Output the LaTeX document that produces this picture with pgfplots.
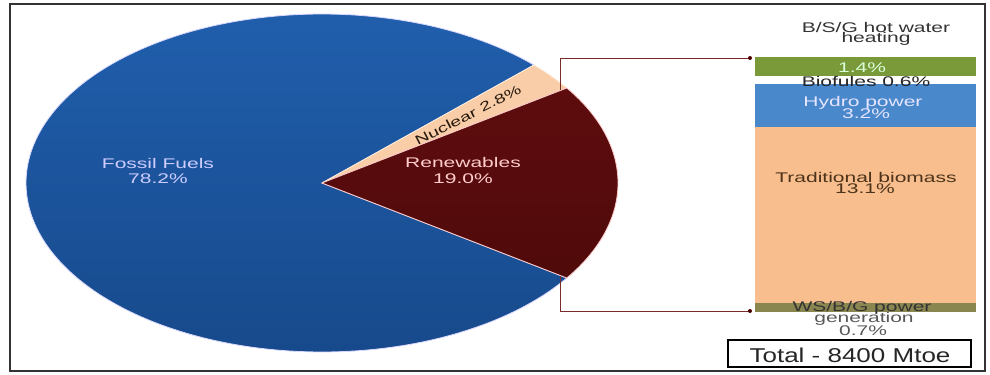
\documentclass[border=0pt]{standalone}
\usepackage{fontspec}
\setmainfont{Liberation Sans}[FakeStretch=1.5]
\newfontfamily\totalfont{Liberation Sans}[FakeStretch=1.3]
\usepackage{pgfplots}
\pgfplotsset{compat=1.18}
\definecolor{fossilTop}{HTML}{205EAC}
\definecolor{fossilBot}{HTML}{174A8C}
\definecolor{renewTop}{HTML}{5E0C0E}
\definecolor{renewBot}{HTML}{500A0A}
\definecolor{nuclearC}{HTML}{F9CDA8}
\definecolor{hotgreen}{HTML}{7A9A3A}
\definecolor{hydroC}{HTML}{4A88CC}
\definecolor{biomassC}{HTML}{F8BE8E}
\definecolor{wsolive}{HTML}{8A8650}
\definecolor{conn}{HTML}{7B2A2A}
\newcommand\fs[1]{\fontsize{#1bp}{#1bp}\selectfont}
% pie shares (percent)
\def\fossil{78.2}
\def\nuclear{2.8}
\def\renew{19.0}
\begin{document}
\begin{tikzpicture}[every node/.style={inner sep=0pt}]
\pgfmathsetmacro{\aR}{\renew*1.8}
\pgfmathsetmacro{\aN}{\aR+\nuclear*3.6}
\pgfmathsetmacro{\aF}{\aN+\fossil*3.6}
% stacked bar of renewables
\begin{axis}[at={(755bp,62bp)}, anchor=south west, scale only axis,
  width=221bp, height=255bp, hide axis, xmin=-0.5, xmax=0.5,
  ymin=0, ymax=19, ybar stacked, bar width=221bp, clip=false]
\addplot[fill=wsolive, draw=none] coordinates {(0,0.7)};
\addplot[fill=biomassC, draw=none] coordinates {(0,13.1)};
\addplot[fill=hydroC, draw=none] coordinates {(0,3.2)};
\addplot[fill=white, draw=none] coordinates {(0,0.6)};
\addplot[fill=hotgreen, draw=none] coordinates {(0,1.4)};
\end{axis}
% main canvas in pixel coordinates
\begin{axis}[at={(0,0)}, anchor=south west, scale only axis,
  width=990bp, height=374bp, hide axis, xmin=0, xmax=990,
  ymin=0, ymax=374, y dir=reverse, clip=false]
\path (axis cs:0,0) rectangle (axis cs:990,374);
\addplot[draw=white!85!blue, line width=0.8pt, top color=fossilTop, bottom color=fossilBot,
  domain=\aN:\aF, samples=150, variable=\t]
  ({322+296*cos(\t)},{183-169*sin(\t)}) -- (axis cs:322,183) -- cycle;
\addplot[draw=white!85!orange, line width=0.8pt, fill=nuclearC,
  domain=\aR:\aN, samples=20, variable=\t]
  ({322+296*cos(\t)},{183-169*sin(\t)}) -- (axis cs:322,183) -- cycle;
\addplot[draw=white!80!red, line width=0.8pt, top color=renewTop, bottom color=renewBot,
  domain=-\aR:\aR, samples=60, variable=\t]
  ({322+296*cos(\t)},{183-169*sin(\t)}) -- (axis cs:322,183) -- cycle;
% labels on pie
\node[anchor=base, text=white!80!blue, font=\fs{14}] at (axis cs:158,168) {Fossil Fuels};
\node[anchor=base, text=white!80!blue, font=\fs{14}] at (axis cs:158,183) {78.2\%};
\node[anchor=base, text=white!80!red, font=\fs{14}] at (axis cs:463,167) {Renewables};
\node[anchor=base, text=white!80!red, font=\fs{14}] at (axis cs:463,183) {19.0\%};
\node[rotate=27, text=black!80!brown, font=\fs{13}] at (axis cs:468,115) {Nuclear 2.8\%};
% connectors
\draw[conn, line width=1pt] (axis cs:560,90) -- (axis cs:560,58) -- (axis cs:750,58);
\draw[conn, line width=1pt] (axis cs:560,276) -- (axis cs:560,311) -- (axis cs:750,311);
\fill[black!70!red] (axis cs:750,58) circle (2bp);
\fill[black!70!red] (axis cs:750,311) circle (2bp);
% bar labels
\node[anchor=base, text=black!80, font=\fs{14}] at (axis cs:876,32) {B/S/G hot water};
\node[anchor=base, text=black!80, font=\fs{14}] at (axis cs:876,42.5) {heating};
\node[anchor=base, text=white!85!green, font=\fs{14}] at (axis cs:862,72) {1.4\%};
\node[anchor=base, text=black!85, font=\fs{14}] at (axis cs:866,86) {Biofules 0.6\%};
\node[anchor=base, text=white!90!blue, font=\fs{14}] at (axis cs:863,106) {Hydro power};
\node[anchor=base, text=white!90!blue, font=\fs{14}] at (axis cs:866,118) {3.2\%};
\node[anchor=base, text=black!60!brown, font=\fs{14}] at (axis cs:866,182) {Traditional biomass};
\node[anchor=base, text=black!60!brown, font=\fs{14}] at (axis cs:865,193) {13.1\%};
\node[anchor=base, text=black!80, font=\fs{14}] at (axis cs:862,311) {WS/B/G power};
\node[anchor=base, text=black!65, font=\fs{14}] at (axis cs:864,322) {generation};
\node[anchor=base, text=black!65, font=\fs{14}] at (axis cs:863,335) {0.7\%};
% total box
\draw[line width=1.2pt] (axis cs:728,340) rectangle (axis cs:971,367);
\node[anchor=base, text=black!85, font=\totalfont\fs{20}] at (axis cs:850,362) {Total - 8400 Mtoe};
% outer frame
\draw[line width=1.2pt, black!80] (axis cs:10,4) rectangle (axis cs:985,371);
\end{axis}
\end{tikzpicture}
\end{document}
